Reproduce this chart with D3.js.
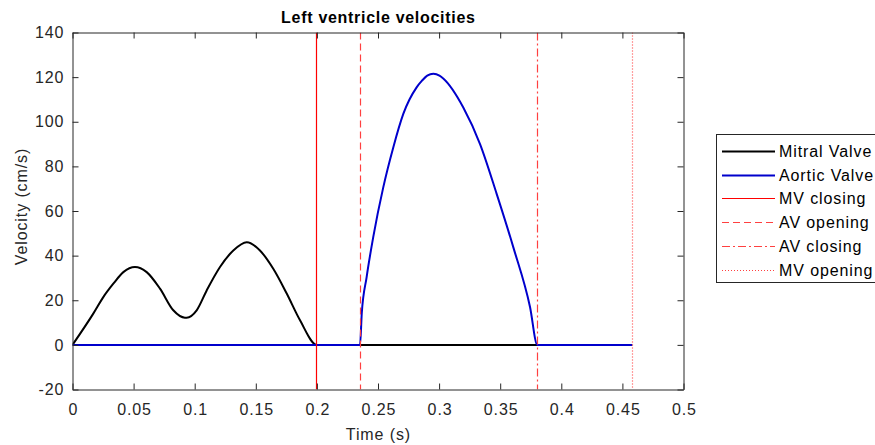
<!DOCTYPE html>
<html>
<head>
<meta charset="utf-8">
<script src="https://cdn.jsdelivr.net/npm/d3@7/dist/d3.min.js"></script>
<style>
  html, body { margin: 0; padding: 0; background: #fff; }
  svg { display: block; font-family: "Liberation Sans", Arial, Helvetica, sans-serif; }
</style>
</head>
<body>
<svg id="chart" width="875" height="445"></svg>
<script>
// Mitral valve velocity (cm/s) over time (s)
const mitralTime = [0, 0.017, 0.0252, 0.0334, 0.0416, 0.0511, 0.0607, 0.0716, 0.0825, 0.092, 0.0934, 0.1016, 0.1098, 0.1207, 0.1316, 0.1426, 0.1534, 0.1643, 0.1753, 0.1862, 0.2, 0.2353, 0.3804, 0.458];
const mitralVel  = [0, 14, 21.4, 27.4, 32.6, 34.9, 32.6, 25.2, 15.5, 12.2, 12.2, 15.5, 24.4, 34.9, 42.3, 46.0, 42.3, 34.1, 23, 11, 0, 0, 0, 0];

// Aortic valve velocity (cm/s) over time (s)
const aorticTime = [0, 0.2353, 0.2367, 0.2407, 0.2461, 0.2543, 0.2625, 0.2707, 0.2816, 0.286, 0.2903, 0.2953, 0.3003, 0.3034, 0.3198, 0.3335, 0.3471, 0.3607, 0.3744, 0.3804, 0.458];
const aorticVel  = [0, 0, 14, 30.4, 48.3, 70.6, 88.5, 103.5, 115.4, 118.4, 120.7, 121.5, 120.7, 119.4, 106.4, 90, 67.7, 43.8, 17, 0, 0];

// Valve event times (s)
const eventNames = ["MV closing", "AV opening", "AV closing", "MV opening"];
const eventTimes = [0.2, 0.2353, 0.3804, 0.458];
const eventDash  = [null, "7,4", "8,3,2,3", "1,2"];

const xTicks = [0, 0.05, 0.1, 0.15, 0.2, 0.25, 0.3, 0.35, 0.4, 0.45, 0.5];
const yTicks = [-20, 0, 20, 40, 60, 80, 100, 120, 140];

const svg = d3.select("#chart");
const L = 72.5, R = 683.5, T = 32.5, B = 389.5;
const axisColor = "#262626";
const fontSize = 16;
const extraSpacing = 0.9; // added spacing between glyphs, px

const x = d3.scaleLinear().domain([0, 0.5]).range([L, R]);
const y = d3.scaleLinear().domain([-20, 140]).range([B, T]);
const snap = v => Math.floor(v) + 0.5;

// Spread glyphs slightly wider than the font's natural advance
function widen(sel, extra) {
  sel.each(function () {
    const n = this.textContent.length;
    if (n < 2) return;
    const w = this.getComputedTextLength();
    d3.select(this).attr("textLength", w + extra * (n - 1)).attr("lengthAdjust", "spacing");
  });
}

const clipId = "plotClip";
svg.append("defs").append("clipPath").attr("id", clipId)
  .append("rect").attr("x", L).attr("y", T).attr("width", R - L).attr("height", B - T);

const line = d3.line().x(d => x(d[0])).y(d => y(d[1])).curve(d3.curveMonotoneX);

const mitral = mitralTime.map((t, i) => [t, mitralVel[i]]);
const aortic = aorticTime.map((t, i) => [t, aorticVel[i]]);

const marks = svg.append("g").attr("clip-path", `url(#${clipId})`);

marks.append("path").datum(mitral)
  .attr("d", line).attr("fill", "none")
  .attr("stroke", "#000").attr("stroke-width", 2).attr("stroke-linejoin", "round");

marks.append("path").datum(aortic)
  .attr("d", line).attr("fill", "none")
  .attr("stroke", "#0000cc").attr("stroke-width", 2).attr("stroke-linejoin", "round");

eventTimes.forEach((t, i) => {
  marks.append("line")
    .attr("x1", snap(x(t))).attr("x2", snap(x(t))).attr("y1", T).attr("y2", B)
    .attr("stroke", eventDash[i] ? "#ff4040" : "#ff0000").attr("stroke-width", 1.2)
    .attr("stroke-dasharray", eventDash[i]);
});

// Axes: bottom/left with labels, top/right mirrored ticks only
const tickLen = 6;
const axisB = d3.axisBottom(x).tickValues(xTicks).tickSizeInner(-tickLen).tickSizeOuter(0).tickPadding(14)
  .tickFormat(d => String(+d.toFixed(2)));
const axisL = d3.axisLeft(y).tickValues(yTicks).tickSizeInner(-tickLen).tickSizeOuter(0).tickPadding(9)
  .tickFormat(d => String(d));
const axisT = d3.axisTop(x).tickValues(xTicks).tickSizeInner(-tickLen).tickSizeOuter(0).tickFormat("");
const axisR = d3.axisRight(y).tickValues(yTicks).tickSizeInner(-tickLen).tickSizeOuter(0).tickFormat("");

function styleAxis(g) {
  g.selectAll("path.domain").attr("stroke", axisColor).attr("stroke-width", 1);
  g.selectAll(".tick line").attr("stroke", axisColor).attr("stroke-width", 1);
  g.selectAll(".tick text").attr("fill", axisColor).attr("font-size", fontSize)
    .attr("font-family", "'Liberation Sans', Arial, sans-serif")
    .call(widen, extraSpacing);
}
svg.append("g").attr("transform", `translate(0,${B})`).call(axisB).call(styleAxis);
svg.append("g").attr("transform", `translate(${L},0)`).call(axisL).call(styleAxis);
svg.append("g").attr("transform", `translate(0,${T})`).call(axisT).call(styleAxis);
svg.append("g").attr("transform", `translate(${R},0)`).call(axisR).call(styleAxis);

// Title and axis labels
svg.append("text").attr("x", (L + R) / 2).attr("y", 23)
  .attr("text-anchor", "middle").attr("font-weight", "bold").attr("font-size", fontSize)
  .attr("fill", "#000").text("Left ventricle velocities").call(widen, 0.7);
svg.append("text").attr("x", (L + R) / 2).attr("y", 440)
  .attr("text-anchor", "middle").attr("font-size", fontSize)
  .attr("fill", axisColor).text("Time (s)").call(widen, extraSpacing);
svg.append("text").attr("transform", `translate(27,${(T + B) / 2 - 4}) rotate(-90)`)
  .attr("text-anchor", "middle").attr("font-size", fontSize)
  .attr("fill", axisColor).text("Velocity (cm/s)").call(widen, extraSpacing);

// Legend
const legendNames = ["Mitral Valve", "Aortic Valve"].concat(eventNames);
const legendColors = ["#000", "#0000cc", "#ff0000", "#ff4040", "#ff4040", "#ff4040"];
const legendWidths = [2, 2, 1, 1.2, 1.2, 1.2];
const legendDash = [null, null].concat(eventDash);
const lg = svg.append("g");
lg.append("rect").attr("x", 716.5).attr("y", 134.5).attr("width", 170).attr("height", 148)
  .attr("fill", "#fff").attr("stroke", axisColor).attr("stroke-width", 1);
legendNames.forEach((name, i) => {
  const cy = Math.round(151 + i * 23.7);
  lg.append("line").attr("x1", 722).attr("x2", 775).attr("y1", cy + 0.5).attr("y2", cy + 0.5)
    .attr("stroke", legendColors[i]).attr("stroke-width", legendWidths[i])
    .attr("stroke-dasharray", legendDash[i]);
  lg.append("text").attr("x", 779).attr("y", cy + 6).attr("font-size", fontSize)
    .attr("fill", "#000").text(name).call(widen, extraSpacing);
});
</script>
</body>
</html>
